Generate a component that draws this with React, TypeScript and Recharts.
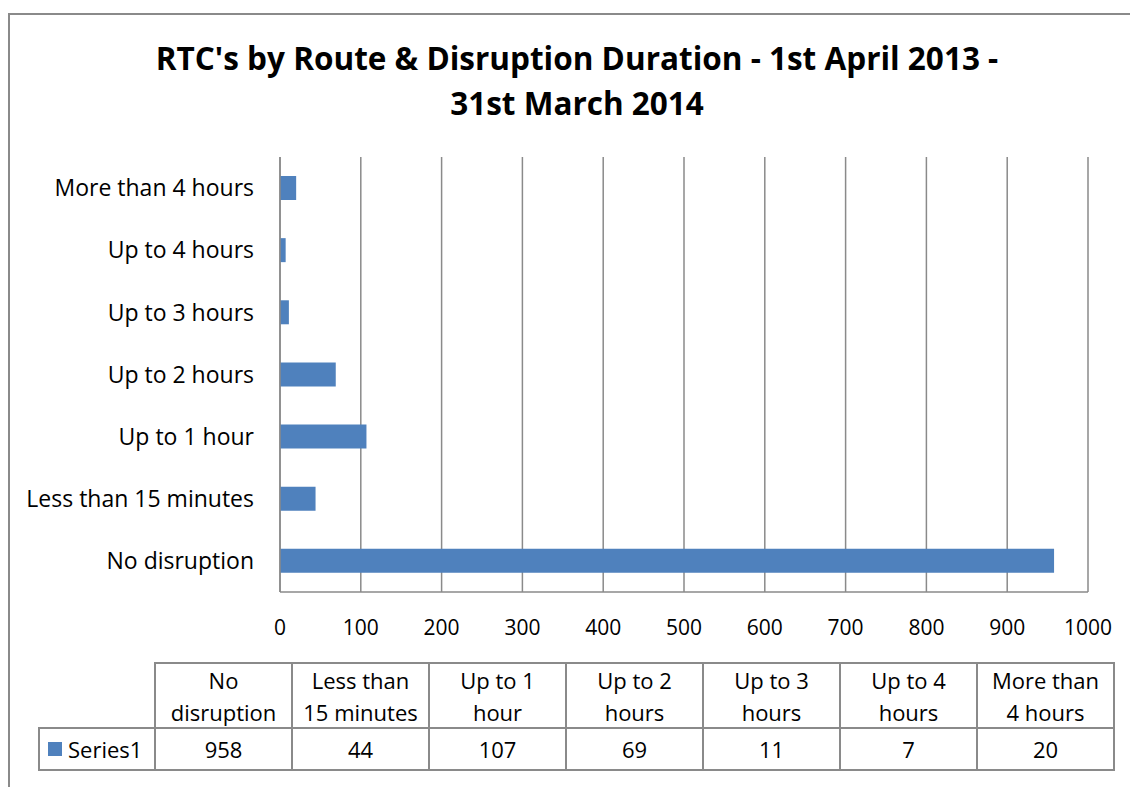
import { BarChart, Bar, XAxis, YAxis, CartesianGrid } from 'recharts'

const categories = [
  'No disruption',
  'Less than 15 minutes',
  'Up to 1 hour',
  'Up to 2 hours',
  'Up to 3 hours',
  'Up to 4 hours',
  'More than 4 hours',
]
const series1 = [958, 44, 107, 69, 11, 7, 20]
const xTicks = [0, 100, 200, 300, 400, 500, 600, 700, 800, 900, 1000]
const seriesName = 'Series1'
const titleLines = ["RTC's by Route & Disruption Duration - 1st April 2013 -", '31st March 2014']

const FONT = "'Open Sans', 'Noto Sans', sans-serif"
const BLUE = '#4F81BD'
const GRAY = '#8a8a8a'

// greedy wrap, like the data table header cells
function wrap(label: string, max = 10) {
  const lines: string[] = []
  let cur = ''
  for (const w of label.split(' ')) {
    if (!cur) cur = w
    else if ((cur + ' ' + w).length <= max) cur += ' ' + w
    else {
      lines.push(cur)
      cur = w
    }
  }
  if (cur) lines.push(cur)
  return lines
}

export default function App() {
  const data = categories.map((c, i) => ({ category: c, [seriesName]: series1[i] }))

  const colLeft = 155
  const colW = 137
  const headTop = 662
  const headH = 65
  const rowH = 42

  return (
    <div
      style={{
        position: 'fixed',
        left: 0,
        top: 0,
        width: 1130,
        height: 787,
        overflow: 'hidden',
        background: '#fff',
        fontFamily: FONT,
      }}
    >
      <div
        style={{
          position: 'absolute',
          left: 8,
          top: 13,
          width: 1300,
          height: 900,
          border: `2px solid ${GRAY}`,
        }}
      />
      <div
        style={{
          position: 'absolute',
          left: 0,
          top: 35,
          width: 1154,
          textAlign: 'center',
          fontWeight: 700,
          fontSize: 31.5,
          lineHeight: '45px',
          color: '#000',
        }}
      >
        {titleLines.map((t) => (
          <div key={t}>{t}</div>
        ))}
      </div>

      <div style={{ position: 'absolute', left: 0, top: 0 }}>
        <BarChart
          width={1130}
          height={787}
          data={data}
          layout="vertical"
          margin={{ top: 157, right: 42, bottom: 155, left: 0 }}
        >
          <CartesianGrid horizontal={false} stroke={GRAY} strokeWidth={1.5} />
          <XAxis
            type="number"
            domain={[0, 1000]}
            ticks={xTicks}
            height={40}
            tickLine={false}
            tickMargin={22}
            axisLine={{ stroke: GRAY, strokeWidth: 1.5 }}
            tick={{ fontSize: 21, fill: '#000', fontFamily: FONT }}
          />
          <YAxis
            type="category"
            dataKey="category"
            width={280}
            reversed
            tickLine={false}
            tickMargin={20}
            axisLine={{ stroke: GRAY, strokeWidth: 1.5 }}
            tick={{ fontSize: 23, fill: '#000', fontFamily: FONT }}
            interval={0}
          />
          <Bar dataKey={seriesName} fill={BLUE} barSize={24} isAnimationActive={false} />
        </BarChart>
      </div>

      {/* data table */}
      {categories.map((c, i) => (
        <div
          key={'h' + c}
          style={{
            position: 'absolute',
            left: colLeft + i * colW - 1,
            top: headTop,
            width: colW + 2,
            height: headH + 2,
            boxSizing: 'border-box',
            border: `2px solid ${GRAY}`,
            display: 'flex',
            flexDirection: 'column',
            justifyContent: 'center',
            alignItems: 'center',
            fontSize: 22,
            lineHeight: '32px',
            color: '#000',
          }}
        >
          {wrap(c).map((l) => (
            <div key={l}>{l}</div>
          ))}
        </div>
      ))}
      <div
        style={{
          position: 'absolute',
          left: 38,
          top: headTop + headH,
          width: colLeft - 38 + 1,
          height: rowH + 2,
          boxSizing: 'border-box',
          border: `2px solid ${GRAY}`,
          display: 'flex',
          alignItems: 'center',
          fontSize: 22,
          color: '#000',
        }}
      >
        <span style={{ display: 'inline-block', width: 14, height: 14, background: BLUE, marginLeft: 8, marginRight: 6 }} />
        {seriesName}
      </div>
      {series1.map((v, i) => (
        <div
          key={'v' + i}
          style={{
            position: 'absolute',
            left: colLeft + i * colW - 1,
            top: headTop + headH,
            width: colW + 2,
            height: rowH + 2,
            boxSizing: 'border-box',
            border: `2px solid ${GRAY}`,
            display: 'flex',
            justifyContent: 'center',
            alignItems: 'center',
            fontSize: 22,
            color: '#000',
          }}
        >
          {v}
        </div>
      ))}
    </div>
  )
}
